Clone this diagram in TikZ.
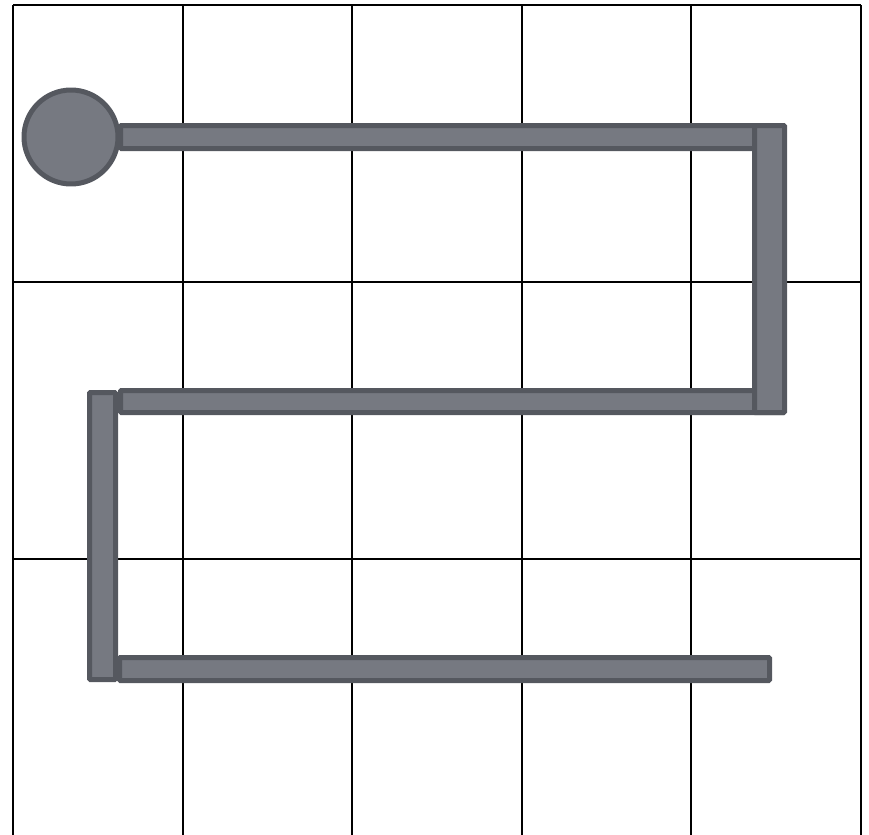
\documentclass[tikz,border=0pt]{standalone}
\definecolor{barfill}{HTML}{767981}
\definecolor{barline}{HTML}{55585F}
\begin{document}
\begin{tikzpicture}[x=0.02cm,y=-0.02cm]
  \useasboundingbox (0,0) rectangle (869,835);
  % grid
  \foreach \i/\x in {0/13,1/182.5,2/352,3/521.5,4/691,5/860.5} {
    \coordinate (T\i) at (\x,5);
    \coordinate (B\i) at (\x,835);
    \draw[line width=0.04cm] (T\i)--(B\i);
  }
  \foreach \j/\y in {0/5,1/282,2/559} {
    \coordinate (L\j) at (13,\y);
    \coordinate (R\j) at (860.5,\y);
    \draw[line width=0.04cm] (L\j)--(R\j);
  }
  \tikzset{bar/.style={fill=barfill,draw=barline,line width=0.1cm,rounded corners=0.5pt}}
  % horizontal bars
  \draw[bar] (120.5,125.5) rectangle (784,148.5);
  \draw[bar] (120.5,390.5) rectangle (784,412.5);
  \draw[bar] (119.5,657.5) rectangle (769.5,680.5);
  % vertical bars
  \draw[bar] (754.5,125.5) rectangle (784.5,412.5);
  \draw[bar] (89.5,392.5) rectangle (115.5,679.5);
  % start
  \coordinate (S) at (71,137);
  \filldraw[fill=barfill,draw=barline,line width=0.1cm] (S) circle (0.94cm);
\end{tikzpicture}
\end{document}
